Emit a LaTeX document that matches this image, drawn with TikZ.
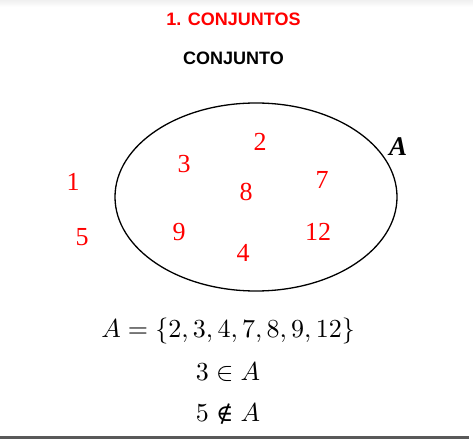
\documentclass[tikz,border=0pt]{standalone}
\usepackage{fontspec}
\newfontfamily\titlefont{Liberation Sans}
\newfontfamily\numfont{Liberation Serif}
\newfontfamily\symfont{DejaVu Serif}
\usetikzlibrary{shapes.geometric}
\begin{document}
\begin{tikzpicture}[x=1pt,y=-1pt,
  title/.style={font=\titlefont\bfseries\fontsize{18}{20}\selectfont, inner sep=0pt},
  elem/.style={text=red, font=\numfont\fontsize{26}{28}\selectfont, inner sep=0pt},
  mathline/.style={scale=2.6, inner sep=0pt, anchor=base}]
\useasboundingbox (0,0) rectangle (473,443);
\fill[white] (0,0) rectangle (473,443);
\shade[top color=black!6, bottom color=white] (0,0) rectangle (473,7);
\node[title, text=red] (t1) at (233.5,19.5) {1. CONJUNTOS};
\node[title] (t2) at (233.5,58.5) {CONJUNTO};
\node[draw, line width=1.3pt, ellipse, minimum width=282pt, minimum height=188pt, inner sep=0pt] (setA) at (256,197) {};
\node[font=\numfont\bfseries\itshape\fontsize{27}{29}\selectfont, inner sep=0pt] (lblA) at (398,147) {A};
\node[elem] (e2) at (260,142) {2};
\node[elem] (e3) at (184,164) {3};
\node[elem] (e8) at (246,192) {8};
\node[elem] (e7) at (322,180) {7};
\node[elem] (e9) at (179,232) {9};
\node[elem] (e12) at (318,232) {12};
\node[elem] (e4) at (243,253) {4};
\node[elem] (e1) at (73,182) {1};
\node[elem] (e5) at (82,237) {5};
\node[mathline] (m1) at (228,337) {$A=\{2,3,4,7,8,9,12\}$};
\node[mathline] (m2) at (228,380) {$3\in A$};
\node[mathline] (m3) at (228,421) {$5\mathrel{\hbox{\symfont\fontsize{9}{10}\selectfont ∉}}A$};
\draw[line width=3pt, black!65] (0,437) -- (469,437);
\end{tikzpicture}
\end{document}
